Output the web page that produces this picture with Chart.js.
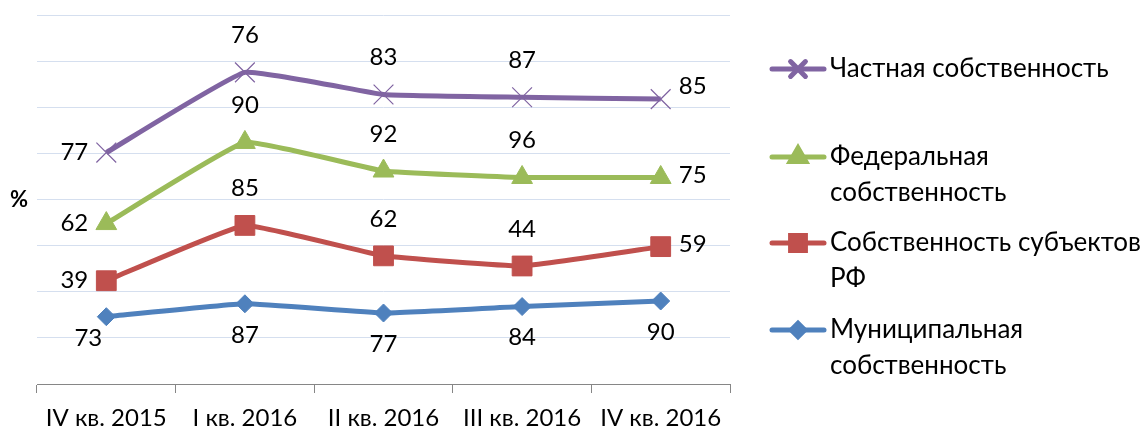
<!DOCTYPE html>
<html>
<head>
<meta charset="utf-8">
<script src="https://cdn.jsdelivr.net/npm/chart.js@4.4.1/dist/chart.umd.min.js"></script>
<style>
  body { margin: 0; background: #fff; }
  #wrap { width: 1147px; height: 427px; position: relative; }
</style>
</head>
<body>
<div id="wrap"><canvas id="ownershipChart"></canvas></div>
<script>
// values (lines are stacked)
const quarters = ['IV кв. 2015', 'I кв. 2016', 'II кв. 2016', 'III кв. 2016', 'IV кв. 2016'];
const municipal = [73, 87, 77, 84, 90];
const regional = [39, 85, 62, 44, 59];
const federal = [62, 90, 92, 96, 75];
const privateOwn = [77, 76, 83, 87, 85];
const seriesNames = ['Муниципальная собственность', 'Собственность субъектов РФ', 'Федеральная собственность', 'Частная собственность'];

const FONT = 'Lato, "Open Sans", sans-serif';

// where each value label sits relative to its point
const labelPos = [
  ['belowLeft', 'below', 'below', 'below', 'below'],
  ['left', 'above', 'above', 'above', 'right'],
  ['left', 'above', 'above', 'above', 'right'],
  ['left', 'above', 'above', 'above', 'rightUp']
];
const offsets = {
  below: [0, 31], belowLeft: [-18, 22], above: [0, -37], left: [-32, 0], right: [32, -2], rightUp: [32, -13]
};

// legend layout (top to bottom like the picture)
const legendRows = [
  { ds: 3, y: 69, lines: ['Частная собственность'] },
  { ds: 2, y: 157, lines: ['Федеральная', 'собственность'] },
  { ds: 1, y: 243, lines: ['Собственность субъектов', 'РФ'] },
  { ds: 0, y: 330, lines: ['Муниципальная', 'собственность'] }
];

const styles = [
  { color: '#4F81BD', point: 'rectRot', radius: 9, bw: 1 },
  { color: '#C0504D', point: 'rect', radius: 14, bw: 1 },
  { color: '#9BBB59', point: 'triangle', radius: 12, bw: 1 },
  { color: '#8064A2', point: 'crossRot', radius: 14, bw: 1.2 }
];
const seriesData = [municipal, regional, federal, privateOwn];

const extras = {
  id: 'extras',
  afterDatasetsDraw(chart) {
    const ctx = chart.ctx;
    ctx.save();
    // value labels
    ctx.fillStyle = '#000';
    ctx.font = '24px ' + FONT;
    ctx.textAlign = 'center';
    ctx.textBaseline = 'middle';
    chart.data.datasets.forEach((ds, i) => {
      const meta = chart.getDatasetMeta(i);
      meta.data.forEach((pt, j) => {
        const off = offsets[labelPos[i][j]];
        ctx.fillText(String(ds.data[j]), pt.x + off[0], pt.y + off[1]);
      });
    });

    // y title
    ctx.font = 'bold 22px ' + FONT;
    ctx.fillText('%', 19, 200);

    // legend
    legendRows.forEach(row => {
      const st = styles[row.ds];
      ctx.strokeStyle = st.color;
      ctx.lineWidth = 5;
      ctx.lineCap = 'round';
      ctx.beginPath();
      ctx.moveTo(772, row.y);
      ctx.lineTo(824, row.y);
      ctx.stroke();
      ctx.fillStyle = st.color;
      Chart.helpers.drawPoint(ctx, {
        pointStyle: st.point, radius: st.radius * 0.75, rotation: 0, borderWidth: st.bw
      }, 798, row.y);
      ctx.fillStyle = '#000';
      ctx.font = '26px ' + FONT;
      ctx.textAlign = 'left';
      row.lines.forEach((t, k) => ctx.fillText(t, 830, row.y + k * 36));
    });
    ctx.restore();
  }
};

const ctx = document.getElementById('ownershipChart').getContext('2d');
const ownershipChart = new Chart(ctx, {
  type: 'line',
  data: {
    labels: quarters,
    datasets: seriesData.map((d, i) => ({
      label: seriesNames[i],
      data: d,
      borderColor: styles[i].color,
      backgroundColor: styles[i].color,
      pointBackgroundColor: styles[i].color,
      pointBorderColor: styles[i].color,
      pointStyle: styles[i].point,
      pointRadius: styles[i].radius,
      pointBorderWidth: styles[i].bw,
      borderWidth: 5,
      tension: 0.1,
      fill: false
    }))
  },
  plugins: [extras],
  options: {
    responsive: true,
    maintainAspectRatio: false,
    animation: false,
    layout: { padding: { left: 37, right: 417, top: 13, bottom: 0 } },
    plugins: {
      legend: { display: false },
      tooltip: { enabled: false }
    },
    scales: {
      x: {
        offset: true,
        afterFit: (scale) => { scale.height = 43; },
        grid: { offset: true, drawOnChartArea: false, drawTicks: true, tickLength: 9, color: '#868686' },
        border: { display: true, color: '#868686', width: 1 },
        ticks: { color: '#000', font: { family: FONT, size: 24, lineHeight: 1 }, padding: 13, maxRotation: 0 }
      },
      y: {
        stacked: true,
        min: 0,
        max: 400,
        ticks: { display: false, stepSize: 50 },
        grid: { color: '#D5DFEF', lineWidth: 1, drawTicks: false },
        border: { display: false }
      }
    }
  }
});
</script>
</body>
</html>
